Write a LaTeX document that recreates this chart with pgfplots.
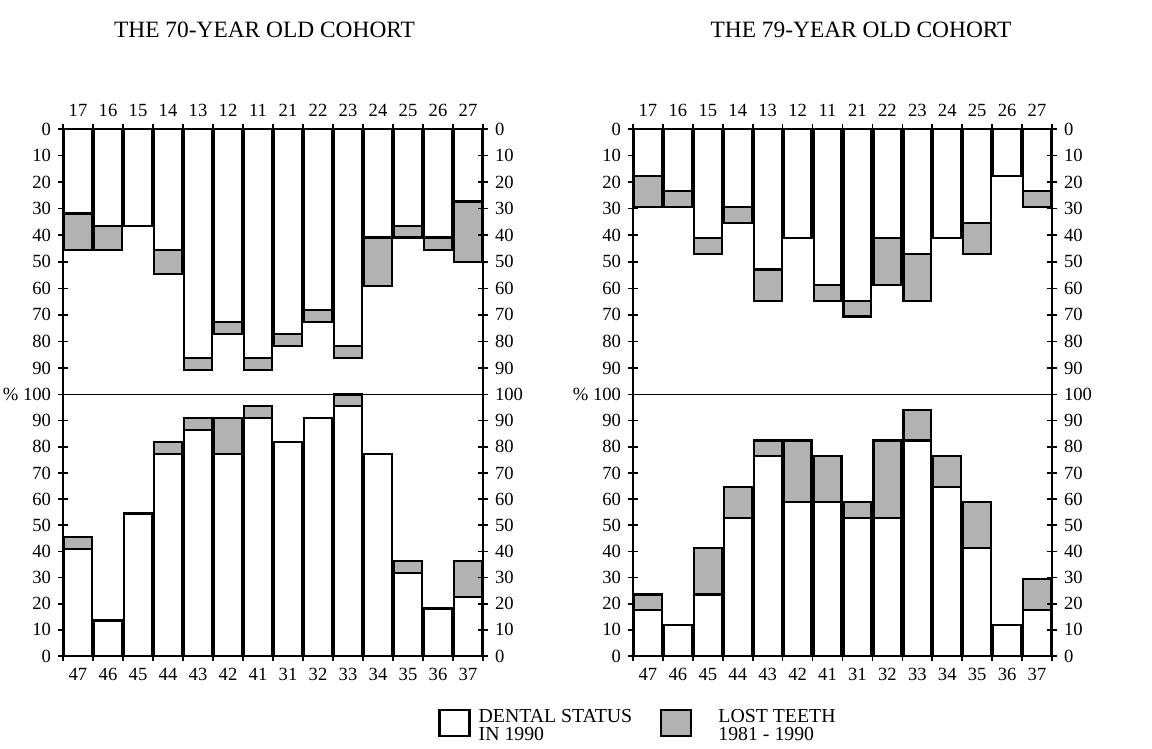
\documentclass[border=0pt]{standalone}
\usepackage{fontspec}
\setmainfont{Liberation Serif}
\usepackage{pgfplots}
\pgfplotsset{compat=1.18}

\pgfplotsset{
  base/.style={
    scale only axis, anchor=north west,
    xmin=0.5, xmax=14.5, ymin=0, ymax=100,
    axis line style={line width=0.9pt},
    tick align=center,
    major tick length=5pt,
    every tick/.append style={black, line width=0.8pt},
    tick label style={font=\fontsize{9.3}{11}\selectfont},
    /pgf/number format/assume math mode=true,
    xtick={0.5,1.5,2.5,3.5,4.5,5.5,6.5,7.5,8.5,9.5,10.5,11.5,12.5,13.5,14.5},
    ytick pos=left,
    clip=false,
    ybar stacked, bar width=0.93,
  },
  upper/.style={y dir=reverse, xtick pos=right, xticklabel pos=right},
  lower/.style={xtick pos=left, xticklabel pos=left},
  rightax/.style={
    scale only axis, anchor=north west,
    xmin=0.5, xmax=14.5, ymin=0, ymax=100,
    hide x axis, axis y line*=right,
    axis line style={line width=0.9pt},
    tick align=center, major tick length=5pt,
    every tick/.append style={black, line width=0.8pt},
    tick label style={font=\fontsize{9.3}{11}\selectfont},
  },
  wb/.style={fill=white, draw=black, line width=1.1pt},
  gb/.style={fill=black!30, draw=black, line width=1.1pt},
}

\begin{document}
\begin{tikzpicture}
\path[use as bounding box] (0,0) rectangle (576pt,-374.5pt);

\node[font=\fontsize{11.7}{14}\selectfont] at (132.25pt,-15pt) {THE 70-YEAR OLD COHORT};
\node[font=\fontsize{11.7}{14}\selectfont] at (430.5pt,-15pt) {THE 79-YEAR OLD COHORT};

% ---------- 70-year, upper jaw ----------
\begin{axis}[base, upper, at={(31.5pt,-64.5pt)}, width=210pt, height=132.75pt,
  ytick={0,10,...,90},
  yticklabels={0,10,20,30,40,50,60,70,80,90},
  xticklabels={17,16,15,14,13,12,11,21,22,23,24,25,26,27,{}},
  xticklabel style={xshift=7.5pt}]
\addplot[wb] coordinates {(1,31.8)(2,36.4)(3,36.4)(4,45.5)(5,86.4)(6,72.7)(7,86.4)(8,77.3)(9,68.2)(10,81.8)(11,40.9)(12,36.4)(13,40.9)(14,27.3)};
\addplot[gb] coordinates {(1,13.7)(2,9.1)(3,0)(4,9.0)(5,4.5)(6,4.6)(7,4.5)(8,4.5)(9,4.5)(10,4.6)(11,18.2)(12,4.5)(13,4.6)(14,22.7)};
\end{axis}
\begin{axis}[rightax, at={(31.5pt,-64.5pt)}, width=210pt, height=132.75pt,
  y dir=reverse, ytick={0,10,...,90},
  yticklabels={0,10,20,30,40,50,60,70,80,90}]
\end{axis}

% ---------- 70-year, lower jaw ----------
\begin{axis}[base, lower, at={(31.5pt,-197.25pt)}, width=210pt, height=130.75pt,
  ytick={0,10,...,100},
  yticklabels={0,10,20,30,40,50,60,70,80,90,{\% 100}},
  xticklabels={47,46,45,44,43,42,41,31,32,33,34,35,36,37,{}},
  xticklabel style={xshift=7.5pt},
  legend columns=2,
  legend cell align=left,
  legend image code/.code={\draw[#1] (0pt,-6.5pt) rectangle (15pt,6.5pt);},
  legend style={at={(axis description cs:0.893,-0.255)}, anchor=west,
    draw=none, fill=none, inner sep=0pt,
    nodes={inner sep=0pt, font=\fontsize{9.9}{7.6}\selectfont},
    /tikz/column 1/.append style={column sep=4pt},
    /tikz/column 2/.append style={column sep=14pt},
    /tikz/column 3/.append style={column sep=13pt}}]
\addplot[wb] coordinates {(1,40.9)(2,13.6)(3,54.5)(4,77.3)(5,86.4)(6,77.3)(7,90.9)(8,81.8)(9,90.9)(10,95.5)(11,77.3)(12,31.8)(13,18.2)(14,22.7)};
\addlegendentry{\begin{tabular}{@{}l@{}}DENTAL STATUS\\IN 1990\end{tabular}}
\addplot[gb] coordinates {(1,4.6)(2,0)(3,0)(4,4.5)(5,4.5)(6,13.6)(7,4.6)(8,0)(9,0)(10,4.5)(11,0)(12,4.6)(13,0)(14,13.7)};
\addlegendentry{\begin{tabular}{@{}l@{}}LOST TEETH\\1981 - 1990\end{tabular}}
\end{axis}
\begin{axis}[rightax, at={(31.5pt,-197.25pt)}, width=210pt, height=130.75pt,
  ytick={0,10,...,100},
  yticklabels={0,10,20,30,40,50,60,70,80,90,100}]
\end{axis}

% ---------- 79-year, upper jaw ----------
\begin{axis}[base, upper, at={(316.5pt,-64.5pt)}, width=209.5pt, height=132.75pt,
  ytick={0,10,...,90},
  yticklabels={0,10,20,30,40,50,60,70,80,90},
  xticklabels={17,16,15,14,13,12,11,21,22,23,24,25,26,27,{}},
  xticklabel style={xshift=7.48pt}]
\addplot[wb] coordinates {(1,17.6)(2,23.5)(3,41.2)(4,29.4)(5,52.9)(6,41.2)(7,58.8)(8,64.7)(9,41.2)(10,47.1)(11,41.2)(12,35.3)(13,17.6)(14,23.5)};
\addplot[gb] coordinates {(1,11.8)(2,5.9)(3,5.9)(4,5.9)(5,11.8)(6,0)(7,5.9)(8,5.9)(9,17.6)(10,17.6)(11,0)(12,11.8)(13,0)(14,5.9)};
\end{axis}
\begin{axis}[rightax, at={(316.5pt,-64.5pt)}, width=209.5pt, height=132.75pt,
  y dir=reverse, ytick={0,10,...,90},
  yticklabels={0,10,20,30,40,50,60,70,80,90}]
\end{axis}

% ---------- 79-year, lower jaw ----------
\begin{axis}[base, lower, at={(316.5pt,-197.25pt)}, width=209.5pt, height=130.75pt,
  ytick={0,10,...,100},
  yticklabels={0,10,20,30,40,50,60,70,80,90,{\% 100}},
  xticklabels={47,46,45,44,43,42,41,31,32,33,34,35,36,37,{}},
  xticklabel style={xshift=7.48pt}]
\addplot[wb] coordinates {(1,17.6)(2,11.8)(3,23.5)(4,52.9)(5,76.5)(6,58.8)(7,58.8)(8,52.9)(9,52.9)(10,82.4)(11,64.7)(12,41.2)(13,11.8)(14,17.6)};
\addplot[gb] coordinates {(1,5.9)(2,0)(3,17.7)(4,11.8)(5,5.9)(6,23.6)(7,17.7)(8,5.9)(9,29.5)(10,11.7)(11,11.8)(12,17.6)(13,0)(14,11.8)};
\end{axis}
\begin{axis}[rightax, at={(316.5pt,-197.25pt)}, width=209.5pt, height=130.75pt,
  ytick={0,10,...,100},
  yticklabels={0,10,20,30,40,50,60,70,80,90,100}]
\end{axis}
\end{tikzpicture}
\end{document}
